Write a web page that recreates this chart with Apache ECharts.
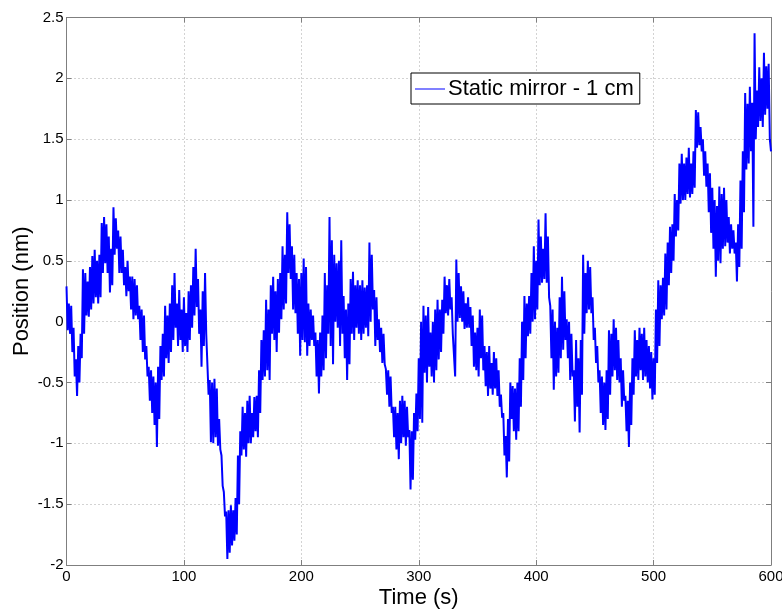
<!DOCTYPE html>
<html>
<head>
<meta charset="utf-8">
<title>Static mirror - 1 cm</title>
<script src="https://cdn.jsdelivr.net/npm/echarts@6/dist/echarts.min.js"></script>
<style>
  html, body { margin: 0; padding: 0; background: #fff; }
  #chart { width: 782px; height: 610px; }
</style>
</head>
<body>
<div id="chart"></div>
<script>
  // position samples, 1 s apart, starting at t = 0 s (nm)
  var position = [
    0.29,-0.07, 0.15,-0.10, 0.13,-0.25, -0.05,-0.45, -0.31,-0.61, -0.20,-0.50, -0.10,-0.30, 0.43,-0.10, 0.40,0.05, 0.33,0.04,
    0.45,0.10, 0.54,0.15, 0.59,0.20, 0.50,0.15, 0.55,0.20, 0.81,0.40, 0.86,0.48, 0.80,0.40, 0.70,0.24, 0.60,0.30,
    0.94,0.55, 0.85,0.60, 0.75,0.40, 0.70,0.40, 0.59,0.30, 0.45,0.21, 0.50,0.25, 0.37,0.10, 0.37,0.02, 0.35,0.05,
    0.30,0.02, 0.13,-0.15, 0.10,-0.25, 0.05,-0.31, -0.20,-0.45, -0.37,-0.65, -0.40,-0.75, -0.45,-0.85, -0.50,-1.03, -0.37,-0.80,
    -0.20,-0.48, -0.10,-0.45, 0.13,-0.30, 0.05,-0.34, 0.15,-0.25, 0.30,-0.15, 0.40,-0.05, 0.15,-0.20, 0.26,-0.15, 0.10,-0.25,
    0.20,-0.20, 0.07,-0.25, 0.25,-0.15, 0.30,-0.05, 0.45,0.05, 0.60,0.12, 0.35,-0.10, 0.10,-0.37, 0.25,-0.20, 0.40,-0.10,
    -0.10,-0.60, -0.48,-0.99, -0.50,-1.00, -0.47,-0.95, -0.55,-1.02, -0.80,-1.05, -1.10,-1.35, -1.40,-1.60, -1.56,-1.95, -1.55,-1.90,
    -1.51,-1.84, -1.55,-1.80, -1.45,-1.75, -1.10,-1.50, -0.90,-1.10, -0.70,-1.05, -0.75,-1.11, -0.65,-1.00, -0.61,-1.00, -0.75,-0.95,
    -0.62,-0.90, -0.61,-0.95, -0.40,-0.75, -0.15,-0.48, -0.07,-0.45, 0.18,-0.40, 0.10,-0.48, 0.30,-0.10, 0.37,-0.15, 0.25,-0.25,
    0.35,-0.09, 0.40,0.02, 0.62,0.10, 0.55,0.15, 0.90,0.40, 0.80,0.35, 0.62,0.10, 0.55,0.07, 0.40,-0.10, 0.35,-0.28,
    0.40,-0.15, 0.52,-0.17, 0.45,-0.28, 0.15,-0.20, 0.10,-0.15, 0.05,-0.20, -0.09,-0.45, -0.15,-0.59, -0.09,-0.45, 0.05,-0.40,
    0.40,-0.30, 0.30,-0.10, 0.86,-0.20, 0.67,-0.35, 0.55,0.00, 0.48,-0.05, 0.50,-0.20, 0.67,-0.10, 0.21,-0.30, 0.10,-0.48,
    0.15,-0.35, 0.35,-0.10, 0.41,-0.15, 0.30,-0.05, 0.34,-0.10, 0.30,-0.15, 0.34,-0.10, 0.28,-0.05, 0.30,-0.12, 0.65,0.00,
    0.55,0.10, 0.26,-0.20, 0.20,-0.15, 0.02,-0.25, -0.05,-0.34, -0.10,-0.35, -0.39,-0.60, -0.40,-0.70, -0.45,-0.75, -0.70,-0.95,
    -0.70,-1.05, -0.75,-1.13, -0.65,-1.00, -0.61,-0.95, -0.65,-1.02, -0.70,-0.95, -0.89,-1.38, -0.90,-1.30, -0.75,-0.97, -0.59,-0.90,
    -0.30,-0.80, 0.00,-0.83, 0.13,-0.42, 0.05,-0.50, 0.12,-0.37, -0.09,-0.45, 0.00,-0.50, 0.10,-0.40, 0.18,-0.31, 0.10,-0.25,
    0.18,-0.10, 0.37,0.07, 0.30,0.05, 0.35,0.10, 0.20,-0.10, -0.10,-0.45, 0.51,0.00, 0.40,0.03, 0.29,0.00, 0.25,-0.06,
    0.15,-0.05, 0.20,-0.05, 0.12,-0.20, 0.05,-0.37, -0.09,-0.40, -0.05,-0.45, 0.10,-0.30, 0.05,-0.40, -0.20,-0.53, -0.25,-0.61,
    -0.20,-0.55, -0.34,-0.60, -0.25,-0.55, -0.30,-0.61, -0.40,-0.70, -0.60,-0.79, -0.75,-1.10, -0.94,-1.28, -0.80,-1.15, -0.50,-0.80,
    -0.53,-0.90, -0.55,-0.97, -0.50,-0.90, -0.30,-0.70, 0.00,-0.48, 0.21,-0.30, 0.15,-0.12, 0.21,-0.10, 0.40,0.00, 0.62,0.02,
    0.50,0.10, 0.84,0.30, 0.70,0.32, 0.60,0.35, 0.89,0.32, 0.70,0.20, 0.13,-0.30, 0.10,-0.56, 0.00,-0.45, -0.05,-0.42,
    0.20,-0.30, 0.37,-0.23, 0.25,-0.15, 0.02,-0.30, 0.00,-0.48, -0.10,-0.45, -0.40,-0.82, -0.15,-0.70, -0.30,-0.91, -0.15,-0.60,
    0.55,-0.10, 0.40,0.07, 0.50,0.10, 0.45,0.07, 0.20,-0.15, -0.05,-0.34, -0.20,-0.50, -0.40,-0.75, -0.45,-0.85, -0.50,-0.89,
    -0.40,-0.80, -0.07,-0.60, -0.10,-0.45, 0.02,-0.40, -0.05,-0.48, -0.15,-0.50, -0.30,-0.70, -0.40,-0.65, -0.61,-0.90, -0.65,-1.03,
    -0.50,-0.85, -0.30,-0.60, -0.07,-0.45, -0.15,-0.48, -0.05,-0.40, -0.10,-0.48, -0.05,-0.45, -0.15,-0.50, -0.20,-0.55, -0.25,-0.64,
    -0.30,-0.60, 0.10,-0.34, 0.34,-0.20, 0.30,0.02, 0.36,0.05, 0.56,0.10, 0.65,0.30, 0.78,0.40, 0.80,0.50, 1.05,0.70,
    1.00,0.75, 1.30,0.97, 1.38,1.00, 1.30,1.00, 1.35,1.05, 1.43,1.02, 1.30,1.05, 1.40,1.10, 1.74,1.43, 1.72,1.45,
    1.60,1.40, 1.50,1.20, 1.40,1.11, 1.30,0.90, 1.22,0.73, 1.10,0.60, 1.00,0.37, 0.95,0.50, 1.11,0.48, 1.05,0.60,
    1.10,0.62, 1.00,0.65, 0.86,0.56, 0.80,0.60, 0.75,0.56, 0.65,0.33, 0.80,0.45, 1.16,0.60, 1.40,0.90, 1.88,1.25,
    1.79,1.30, 1.93,1.40, 1.80,0.78, 2.37,1.50, 1.90,1.60, 2.09,1.65, 2.00,1.60, 2.21,1.70, 2.10,1.75, 2.12,1.50,
    1.40
  ];
  var sampleStep = 1; // s
  var xTicks = [0, 100, 200, 300, 400, 500, 600];
  var yTicks = [-2, -1.5, -1, -0.5, 0, 0.5, 1, 1.5, 2, 2.5];
  var seriesName = 'Static mirror - 1 cm';

  var data = position.map(function (v, i) { return [i * sampleStep, v]; });

  var font = '"Liberation Sans", Arial, sans-serif';
  var axisGray = '#7f7f7f';

  var chart = echarts.init(document.getElementById('chart'), null, { renderer: 'canvas' });

  function frameAxis(pos, isX) {
    //上/右边框，只画向内的刻度
    return {
      type: 'value',
      position: pos,
      min: isX ? xTicks[0] : yTicks[0],
      max: isX ? xTicks[xTicks.length - 1] : yTicks[yTicks.length - 1],
      interval: isX ? 100 : 0.5,
      axisLine: { show: true, onZero: false, lineStyle: { color: axisGray, width: 1 } },
      axisTick: { show: true, inside: true, length: 5, lineStyle: { color: axisGray } },
      axisLabel: { show: false },
      splitLine: { show: false }
    };
  }

  var option = {
    animation: false,
    backgroundColor: '#fff',
    grid: { left: 66.5, right: 11, top: 17.5, bottom: 45, containLabel: false, outerBoundsMode: 'none' },
    legend: {
      data: [{ name: seriesName, icon: 'rect' }],
      left: 411,
      top: 73,
      orient: 'horizontal',
      backgroundColor: '#fff',
      borderColor: '#000',
      borderWidth: 1,
      borderRadius: 0,
      padding: [5, 6, 4, 4],
      itemWidth: 30,
      itemHeight: 1,
      itemGap: 0,
      textStyle: { fontFamily: font, fontSize: 22, color: '#000', padding: [0, 0, 0, -2] }
    },
    xAxis: [{
      type: 'value',
      position: 'bottom',
      min: 0,
      max: 600,
      interval: 100,
      name: 'Time (s)',
      nameLocation: 'middle',
      nameGap: 22,
      nameMoveOverlap: false,
      nameTextStyle: { fontFamily: font, fontSize: 22, color: '#000' },
      axisLine: { show: true, onZero: false, lineStyle: { color: axisGray, width: 1 } },
      axisTick: { show: true, inside: true, length: 5, lineStyle: { color: axisGray } },
      axisLabel: { fontFamily: font, fontSize: 15, color: '#000', margin: 4 },
      splitLine: { show: true, lineStyle: { color: '#a6a6a6', type: [1, 3], width: 1 } }
    }, frameAxis('top', true)],
    yAxis: [{
      type: 'value',
      position: 'left',
      min: -2,
      max: 2.5,
      interval: 0.5,
      name: 'Position (nm)',
      nameLocation: 'middle',
      nameGap: 34,
      nameMoveOverlap: false,
      nameTextStyle: { fontFamily: font, fontSize: 22, color: '#000' },
      axisLine: { show: true, onZero: false, lineStyle: { color: axisGray, width: 1 } },
      axisTick: { show: true, inside: true, length: 5, lineStyle: { color: axisGray } },
      axisLabel: { fontFamily: font, fontSize: 15, color: '#000', margin: 3 },
      splitLine: { show: true, lineStyle: { color: '#a6a6a6', type: [1, 3], width: 1 } }
    }, frameAxis('right', false)],
    series: [{
      name: seriesName,
      type: 'line',
      xAxisIndex: 0,
      yAxisIndex: 0,
      data: data,
      symbol: 'none',
      showSymbol: false,
      lineStyle: { color: '#0000ff', width: 2 },
      itemStyle: { color: '#0000ff' },
      z: 5
    }]
  };
  chart.setOption(option);
</script>
</body>
</html>
